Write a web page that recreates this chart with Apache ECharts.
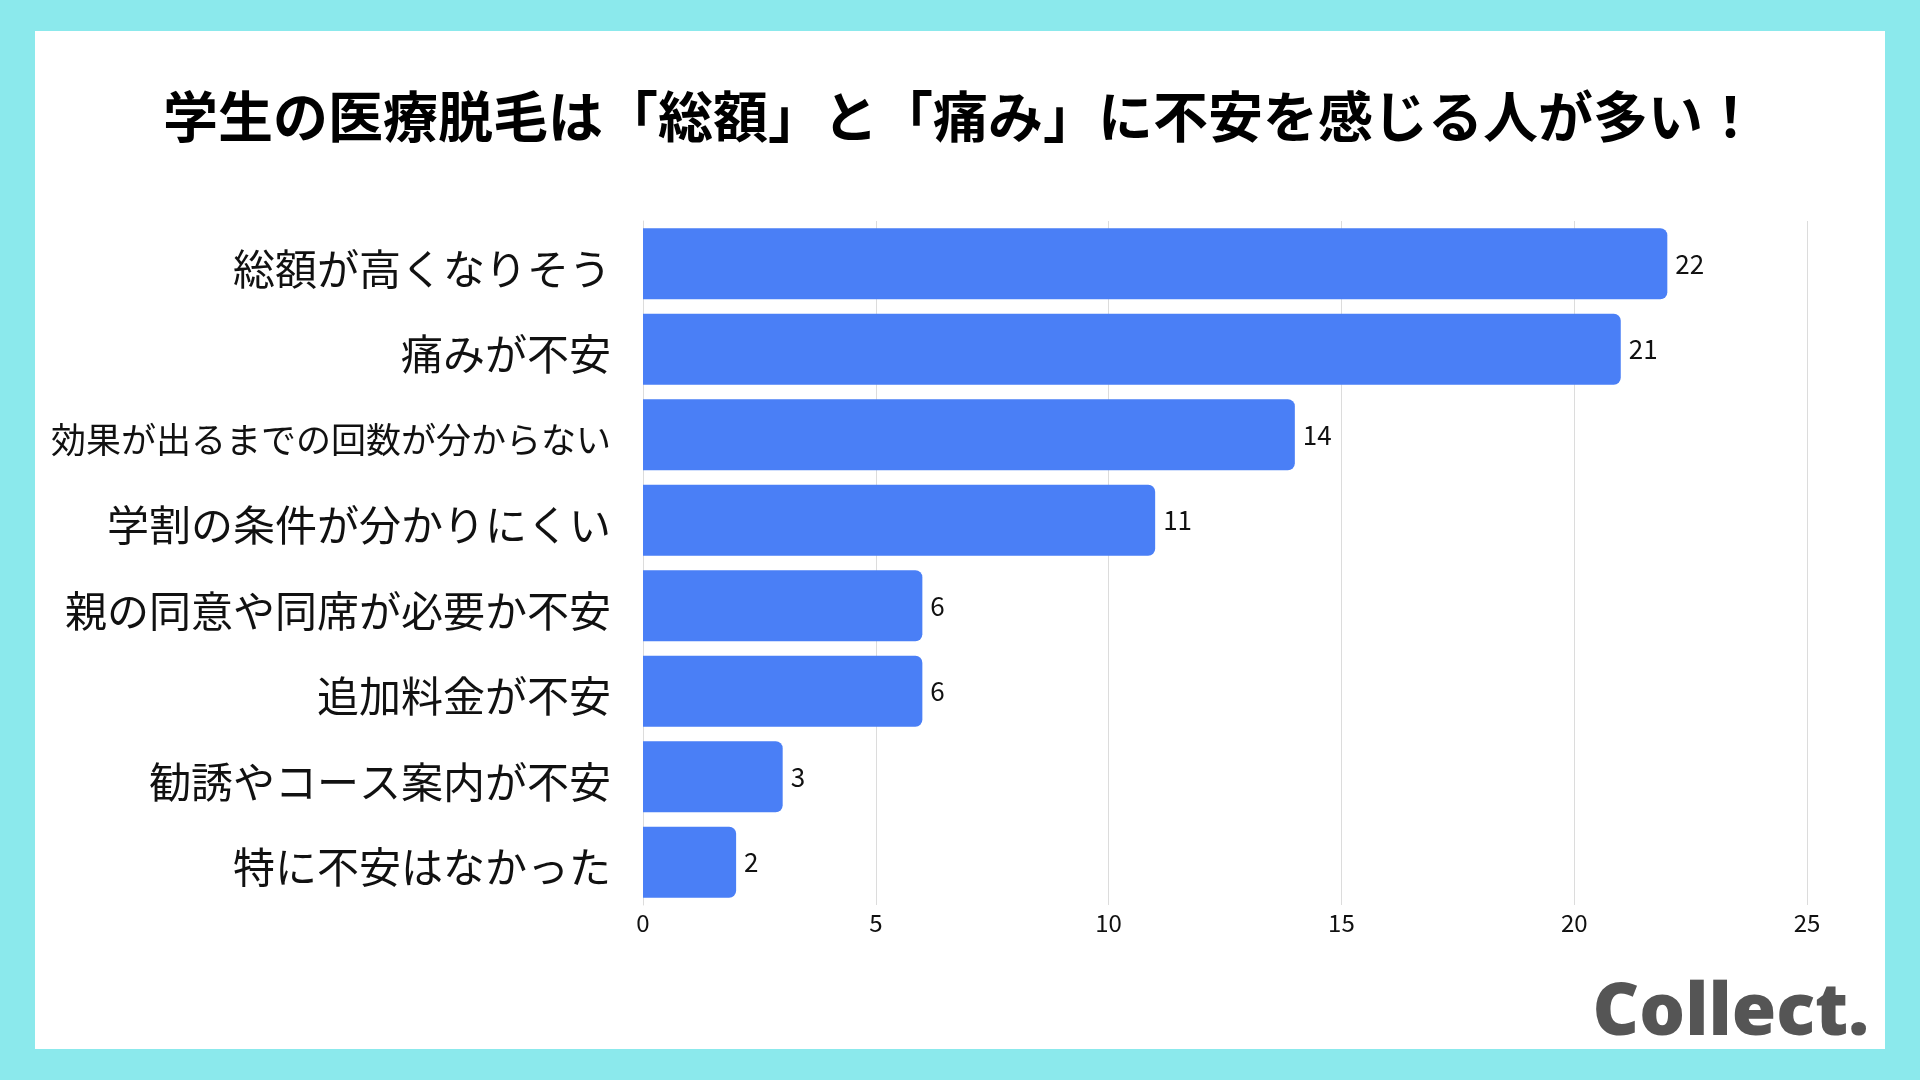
<!DOCTYPE html>
<html>
<head>
<meta charset="utf-8">
<script src="https://cdn.jsdelivr.net/npm/echarts@6/dist/echarts.min.js"></script>
<style>
  html, body {
    margin: 0;
    padding: 0;
    background: #8be9ec;
  }
  .panel {
    position: absolute;
    left: 35px;
    top: 31px;
    width: 1850px;
    height: 1018px;
    background: #fff;
  }
  #main {
    position: absolute;
    left: 0;
    top: 0;
    width: 1920px;
    height: 1080px;
  }
</style>
</head>
<body>
<div class="panel"></div>
<div id="main"></div>
<script>
// 項目（上から順）
let categories = [
  '総額が高くなりそう',
  '痛みが不安',
  '効果が出るまでの回数が分からない',
  '学割の条件が分かりにくい',
  '親の同意や同席が必要か不安',
  '追加料金が不安',
  '勧誘やコース案内が不安',
  '特に不安はなかった'
]
// 回答数
let counts = [22, 21, 14, 11, 6, 6, 3, 2]
// x軸の目盛り
let xTicks = [0, 5, 10, 15, 20, 25]

const FONT = '"Noto Sans CJK JP", "Noto Sans", sans-serif'

let chart = echarts.init(document.getElementById('main'))
chart.setOption({
  backgroundColor: 'transparent',
  textStyle: { fontFamily: FONT },
  title: {
    text: '学生の医療脱毛は「総額」と「痛み」に不安を感じる人が多い！',
    left: 158,
    top: 84,
    textStyle: {
      fontFamily: FONT,
      fontSize: 55,
      fontWeight: 'bold',
      color: '#000'
    }
  },
  grid: {
    left: 643,
    right: 113,
    top: 221,
    bottom: 175
  },
  xAxis: {
    type: 'value',
    min: xTicks[0],
    max: xTicks[xTicks.length - 1],
    interval: xTicks[1] - xTicks[0],
    axisLine: { show: false },
    axisTick: { show: false },
    axisLabel: {
      fontFamily: FONT,
      fontSize: 24,
      color: '#111',
      margin: 6
    },
    splitLine: {
      show: true,
      lineStyle: { color: '#dcdcdc', width: 1 }
    }
  },
  yAxis: {
    type: 'category',
    inverse: true,
    data: categories,
    axisLine: { show: true, lineStyle: { color: '#dcdcdc' } },
    axisTick: { show: false },
    axisLabel: {
      margin: 32,
      // 長いラベルだけ文字を小さくする
      formatter: function (v) {
        return v.length > 14 ? '{s|' + v + '}' : '{n|' + v + '}'
      },
      rich: {
        n: { fontFamily: FONT, fontSize: 42, color: '#111', padding: [10, 0, 0, 0] },
        s: { fontFamily: FONT, fontSize: 35, color: '#111', padding: [10, 0, 0, 0] }
      }
    }
  },
  series: [{
    type: 'bar',
    data: counts,
    barWidth: 71,
    itemStyle: {
      color: '#4a7ff6',
      borderRadius: [0, 7, 7, 0]
    },
    label: {
      show: true,
      position: 'right',
      distance: 8,
      fontFamily: FONT,
      fontSize: 26,
      color: '#111'
    }
  }],
  graphic: [{
    type: 'text',
    right: 1920 - 1869,
    top: 978,
    style: {
      text: 'Collect.',
      font: '800 72px "Open Sans", Lato, sans-serif',
      fill: '#555555'
    }
  }]
})
</script>
</body>
</html>
